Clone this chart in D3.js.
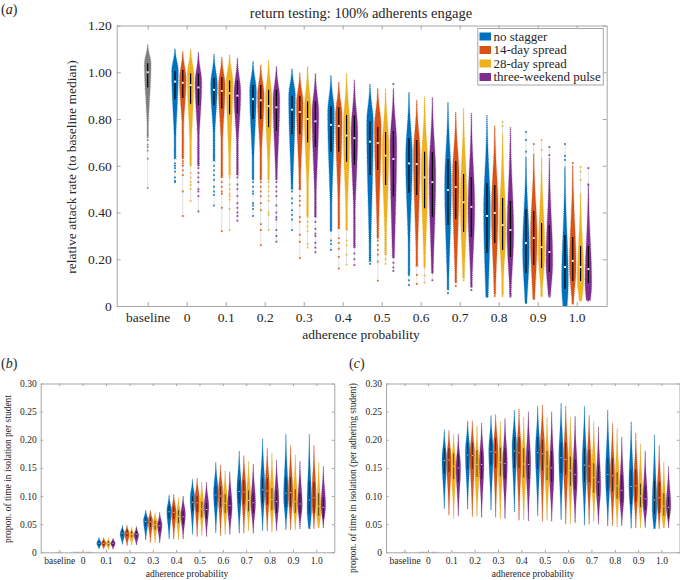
<!DOCTYPE html>
<html>
<head>
<meta charset="utf-8">
<script src="https://d3js.org/d3.v7.min.js"></script>
<style>
  html, body { margin: 0; padding: 0; background: #fff; }
  svg { display: block; }
  text { font-family: "Liberation Serif", serif; fill: #262626; }
</style>
</head>
<body>
<svg id="vis-svg" width="680" height="580">
  <defs>
    <filter id="soft" x="-5%" y="-5%" width="110%" height="110%"><feGaussianBlur stdDeviation="0.3"></feGaussianBlur></filter>
  </defs>
</svg>
<script>
// categories, one x slot for baseline then one per adherence level
var levels = ["baseline", "0", "0.1", "0.2", "0.3", "0.4", "0.5", "0.6", "0.7", "0.8", "0.9", "1.0"];
var series = ["no stagger", "14-day spread", "28-day spread", "three-weekend pulse"];
var colors = ["#0072BD", "#D95319", "#EDB120", "#7E2F8E"];

// panel a, one row per adherence level 0..1.0, one column per series
var aTop = [
  [1.10, 1.09, 1.10, 1.085], [1.075, 1.065, 1.075, 1.06], [1.045, 1.03, 1.05, 1.025], [1.015, .995, 1.025, .995],
  [.985, .955, .995, .965], [.95, .93, .93, .93], [.913, .881, .895, .893], [.872, .829, .843, .825],
  [.817, .771, .74, .765], [.637, .65, .63, .63], [.596, .6, .483, .52]
];
var aQ3 = [
  [1.005, 1.01, .995, .995], [.975, .98, .965, .965], [.945, .945, .925, .925], [.90, .90, .875, .875],
  [.855, .85, .817, .815], [.79, .766, .745, .748], [.718, .71, .66, .659], [.629, .62, .565, .552],
  [.527, .518, .462, .449], [.415, .406, .355, .346], [.304, .295, .257, .257]
];
var aMed = [
  [.96, .955, .945, .935], [.925, .92, .91, .90], [.885, .88, .855, .85], [.84, .83, .80, .79],
  [.775, .77, .729, .718], [.703, .697, .643, .629], [.61, .607, .55, .53], [.496, .509, .444, .424],
  [.385, .398, .346, .325], [.269, .291, .252, .231], [.167, .193, .167, .158]
];
var aQ1 = [
  [.885, .89, .865, .86], [.86, .845, .82, .825], [.80, .80, .765, .75], [.735, .735, .70, .68],
  [.66, .66, .617, .605], [.56, .582, .518, .47], [.483, .475, .418, .382], [.346, .371, .317, .296],
  [.227, .269, .24, .21], [.141, .175, .163, .145], [.073, .107, .107, .098]
];
// where the solid body of each violin ends at the bottom
var aTail = [
  [.63, .63, .60, .60], [.62, .55, .56, .56], [.54, .54, .54, .54], [.50, .50, .38, .38],
  [.32, .33, .325, .25], [.19, .29, .218, .205], [.13, .17, .17, .14], [.07, .10, .12, .08],
  [.04, .05, .05, .045], [.013, .03, .045, .045], [0, .012, .025, .025]
];
// stray runs, outside the solid body
var aDots = [
  [[.61, .60, .59, .575, .55, .535, .53], [.62, .61, .60, .58, .56, .49, .385], [.57, .55, .53, .518, .50, .449], [.59, .57, .55, .53, .50, .49, .47, .404]],
  [[.60, .58, .56, .54, .51, .49, .475, .43], [.53, .51, .49, .48, .42, .32], [.55, .52, .50, .48, .47, .455, .415, .325], [.55, .52, .50, .47, .44, .42, .40, .385, .365]],
  [[.53, .51, .49, .48, .44, .43, .415, .385], [.53, .51, .49, .47, .44, .41, .35, .325, .26], [.53, .51, .49, .47, .45, .40, .39, .325], [.53, .51, .49, .47, .43, .40, .38, .37, .325, .30, .275]],
  [[.49, .46, .44, .41, .39, .37, .325], [.50, .47, .45, .43, .38, .36, .305, .275, .205], [.36, .34, .32, .265, .25], [.36, .33, .31, .30, .27, .25, .23]],
  [[.28, .265, .24], [.29, .27, .245, .21, .16], [.28, .26, .22, .177], [.225, .20, .175]],
  [[.18], [.28, .26, .24, .22, .19, .108], [.20, .18], [.185, .165, .15, .95]],
  [[.11, .09], [.133, .094], [.165, .13, .10], [.11]],
  [[.055], [.085], [.11], [.068]],
  [[.039], [.043], [.788, .77, .043], [.04]],
  [[.745, .71, .66, .013], [.693, .03], [.71, .667, .043], [.68, .645, .04]],
  [[.693, .642, .625, 0], [.612, .01], [.595, .575, .54, .023], [.59, .52, .023]]
];
// panel a baseline
var aBaseline = [1.117, 1.038, 1.00, .935, .72];
var aBaselineDots = [.71, .69, .68, .665, .63, .505];

// panel b and c, one row per adherence level 0.1..1.0
var bTop = [
  [.026, .026, .025, .025], [.048, .048, .045, .046], [.075, .075, .07, .071], [.102, .103, .097, .10], [.13, .132, .125, .125],
  [.16, .155, .145, .143], [.18, .172, .162, .157], [.202, .185, .176, .164], [.21, .19, .173, .162], [.21, .19, .16, .153]
];
var bQ3 = [
  [.02, .02, .02, .02], [.04, .04, .038, .038], [.063, .062, .056, .055], [.083, .082, .075, .073], [.10, .10, .09, .088],
  [.118, .117, .103, .10], [.128, .128, .11, .106], [.133, .132, .114, .11], [.134, .133, .112, .105], [.127, .125, .105, .098]
];
var bMed = [
  [.016, .016, .016, .016], [.034, .034, .032, .032], [.055, .054, .049, .047], [.072, .071, .064, .063], [.089, .088, .077, .076],
  [.102, .10, .087, .083], [.108, .107, .092, .088], [.111, .109, .094, .09], [.105, .106, .09, .086], [.093, .097, .082, .08]
];
var bQ1 = [
  [.012, .012, .012, .012], [.029, .029, .027, .027], [.046, .045, .04, .038], [.06, .059, .052, .05], [.073, .072, .062, .06],
  [.083, .08, .07, .067], [.087, .085, .073, .07], [.087, .085, .075, .07], [.08, .08, .07, .068], [.068, .07, .065, .06]
];
var bMin = [
  [.006, .006, .005, .006], [.014, .012, .013, .013], [.022, .018, .017, .017], [.024, .023, .022, .024], [.032, .028, .03, .028],
  [.035, .03, .032, .032], [.034, .034, .038, .034], [.038, .038, .036, .038], [.04, .04, .04, .042], [.042, .042, .043, .043]
];

var cTop = [
  [.218, .217, .21, .21], [.234, .234, .224, .23], [.243, .245, .232, .238], [.253, .255, .24, .25], [.26, .262, .24, .25],
  [.265, .26, .24, .242], [.26, .243, .232, .223], [.253, .23, .22, .205], [.232, .212, .193, .18], [.209, .19, .16, .153]
];
var cQ3 = [
  [.185, .185, .176, .175], [.195, .195, .182, .18], [.202, .203, .186, .185], [.205, .205, .185, .18], [.205, .20, .18, .18],
  [.195, .195, .17, .165], [.185, .183, .158, .155], [.167, .167, .142, .137], [.147, .147, .122, .118], [.127, .125, .105, .098]
];
var cMed = [
  [.163, .164, .153, .15], [.173, .172, .156, .156], [.179, .178, .16, .158], [.18, .177, .157, .156], [.177, .175, .153, .15],
  [.168, .165, .145, .138], [.155, .153, .133, .125], [.138, .136, .118, .11], [.117, .118, .10, .095], [.093, .097, .082, .08]
];
var cQ1 = [
  [.14, .143, .13, .125], [.148, .148, .134, .13], [.155, .15, .135, .13], [.15, .15, .133, .13], [.148, .145, .128, .125],
  [.14, .138, .118, .112], [.125, .125, .106, .10], [.11, .108, .095, .088], [.085, .09, .08, .075], [.068, .07, .065, .06]
];
var cMin = [
  [.078, .066, .06, .065], [.077, .063, .064, .062], [.075, .062, .06, .06], [.072, .057, .058, .056], [.065, .055, .057, .055],
  [.058, .05, .05, .053], [.048, .05, .055, .05], [.047, .047, .045, .047], [.043, .043, .043, .044], [.042, .042, .043, .043]
];

var yTicksA = [0, .2, .4, .6, .8, 1, 1.2];
var yTicksB = [0, .05, .1, .15, .2, .25, .3];
var xSpan = [-0.795, 11.77];
var offsets = [-0.3, -0.1, 0.1, 0.3];

var svg = d3.select("#vis-svg");

function fmtTick(d) {
  return d === 0 ? "0" : d.toFixed(2);
}

// bell shape around an estimated mode, tapering to a tip at the top
// and either a thin tail or a tip at the bottom
function violinPath(stat, halfWidth) {
  var skew = stat.q3 + stat.q1 - 2 * stat.med;
  var mode = Math.min(stat.q3, Math.max(stat.tail, stat.med - 1.5 * skew));
  var sUp = (stat.top - mode) / 1.7;
  var sDown = stat.tipped
    ? Math.max(mode - stat.tail, stat.q3 - stat.q1) / 1.6
    : Math.max(mode - stat.q1, (stat.q3 - stat.q1) / 3) / 0.5;
  var values = d3.range(0, 41).map(function(i) {
    return stat.tail + (stat.top - stat.tail) * i / 40;
  });
  return values.map(function(v) {
    var s = v > mode ? sUp : sDown;
    var w = Math.exp(-Math.pow((v - mode) / s, 2));
    if (v < mode) { w = Math.max(w, stat.floor); }
    return { v: v, w: w * halfWidth };
  });
}

function drawPanel(p) {
  var x = d3.scaleLinear().domain(xSpan).range([p.left, p.right]);
  var y = d3.scaleLinear().domain(p.yDomain).range([p.bottom, p.top]);
  var g = svg.append("g").attr("filter", "url(#soft)");
  var labels = svg.append("g");

  function drawViolin(cx, stat, color) {
    var area = d3.area()
      .x0(function(d) { return cx - d.w; })
      .x1(function(d) { return cx + d.w; })
      .y(function(d) { return y(d.v); })
      .curve(d3.curveBasis);
    var pts = violinPath(stat, p.halfWidth);

    // thin grey line behind the stray runs
    g.append("line")
      .attr("x1", cx).attr("x2", cx)
      .attr("y1", y(stat.low)).attr("y2", y(stat.high))
      .attr("stroke", "#d9d9d9").attr("stroke-width", 0.8);

    g.append("path")
      .attr("d", area(pts))
      .attr("fill", color)
      .attr("stroke", color)
      .attr("stroke-opacity", 0.6)
      .attr("stroke-width", p.edge)
      .attr("stroke-dasharray", "0.8 1.1");

    g.selectAll(null).data(stat.dots).enter().append("rect")
      .attr("x", cx - p.dot / 2)
      .attr("y", function(d) { return y(d) - p.dot / 2; })
      .attr("width", p.dot).attr("height", p.dot)
      .attr("fill", color).attr("fill-opacity", 0.85);

    g.append("line")
      .attr("x1", cx).attr("x2", cx)
      .attr("y1", y(stat.q1)).attr("y2", y(stat.q3))
      .attr("stroke", "#000").attr("stroke-opacity", p.barOpacity)
      .attr("stroke-width", p.barWidth);

    g.append("rect")
      .attr("x", cx - p.med / 2).attr("y", y(stat.med) - p.med / 2)
      .attr("width", p.med).attr("height", p.med)
      .attr("fill", "#fff").attr("fill-opacity", 0.9);
  }

  p.rows.forEach(function(row, i) {
    row.forEach(function(stat, j) {
      drawViolin(x(i + p.firstSlot + offsets[j]), stat, colors[j]);
    });
  });
  if (p.baseline) { drawViolin(x(0), p.baseline, "#7f7f7f"); }

  // panels b and c show empty groups as flat faint marks on the axis
  if (p.flat) {
    [0, 1].forEach(function(slot) {
      colors.forEach(function(c, j) {
        if (slot === 0 && j > 0) { return; }
        g.append("line")
          .attr("x1", x(slot + (slot ? offsets[j] : 0)) - 3).attr("x2", x(slot + (slot ? offsets[j] : 0)) + 3)
          .attr("y1", y(0)).attr("y2", y(0))
          .attr("stroke", slot ? c : "#7f7f7f").attr("stroke-opacity", 0.4).attr("stroke-width", 1);
      });
    });
  }

  var tickVals = d3.range(0, levels.length);
  var axes = svg.append("g");
  axes.append("g").attr("transform", "translate(0," + p.bottom + ")")
    .call(d3.axisBottom(x).tickValues(tickVals).tickFormat(function(d) { return levels[d]; }).tickSizeInner(-p.tickLen).tickSizeOuter(0).tickPadding(p.xPad));
  axes.append("g").attr("transform", "translate(0," + p.top + ")")
    .call(d3.axisTop(x).tickValues(tickVals).tickFormat("").tickSizeInner(-p.tickLen).tickSizeOuter(0));
  axes.append("g").attr("transform", "translate(" + p.left + ",0)")
    .call(d3.axisLeft(y).tickValues(p.yTicks).tickFormat(fmtTick).tickSizeInner(-p.tickLen).tickSizeOuter(0).tickPadding(p.yPad));
  axes.append("g").attr("transform", "translate(" + p.right + ",0)")
    .call(d3.axisRight(y).tickValues(p.yTicks).tickFormat("").tickSizeInner(-p.tickLen).tickSizeOuter(0));

  axes.selectAll("path.domain, .tick line").attr("stroke", "#a6a6a6").attr("stroke-width", 1);
  axes.selectAll("text")
    .attr("fill", "#262626")
    .attr("font-size", p.tickFont)
    .style("font-family", '"Liberation Serif", serif');

  labels.append("text")
    .attr("x", p.xLabelX).attr("y", p.xLabelY)
    .attr("text-anchor", "middle").attr("font-size", p.labelFont)
    .text("adherence probability");

  labels.append("text")
    .attr("transform", "translate(" + p.yLabelX + "," + p.yLabelY + ") rotate(-90)")
    .attr("text-anchor", "middle").attr("font-size", p.labelFont)
    .text(p.yLabel);

  var tag = labels.append("text").attr("x", p.tagX).attr("y", p.tagY).attr("font-size", 14);
  tag.append("tspan").text("(");
  tag.append("tspan").attr("font-style", "italic").text(p.tag);
  tag.append("tspan").text(")");
}

function zipA(i, j) {
  var highs = aDots[i][j].concat([aTop[i][j]]);
  var lows = aDots[i][j].concat([aTail[i][j]]);
  return {
    top: aTop[i][j], q3: aQ3[i][j], med: aMed[i][j], q1: aQ1[i][j],
    tail: aTail[i][j], dots: aDots[i][j], floor: 0.26, tipped: false,
    high: d3.max(highs), low: d3.min(lows)
  };
}

function zipOther(t, q3, m, q1, lo) {
  return t.map(function(row, i) {
    return row.map(function(_, j) {
      return {
        top: t[i][j], q3: q3[i][j], med: m[i][j], q1: q1[i][j],
        tail: lo[i][j], dots: [], floor: 0.08, tipped: true, high: t[i][j], low: lo[i][j]
      };
    });
  });
}

drawPanel({
  rows: aTop.map(function(row, i) { return row.map(function(_, j) { return zipA(i, j); }); }),
  baseline: {
    top: aBaseline[0], q3: aBaseline[1], med: aBaseline[2], q1: aBaseline[3], tail: aBaseline[4],
    dots: aBaselineDots, floor: 0.2, tipped: false, high: aBaseline[0], low: d3.min(aBaselineDots)
  },
  firstSlot: 1, flat: false,
  left: 116.7, right: 606.7, top: 25.5, bottom: 306, yDomain: [0, 1.2], yTicks: yTicksA,
  halfWidth: 3.3, edge: 1.3, dot: 1.8, med: 2, barWidth: 1.2, barOpacity: 1,
  tickFont: 13.5, labelFont: 13.5, tickLen: 4, xPad: 6, yPad: 5,
  xLabelX: 361, xLabelY: 339, yLabelX: 76, yLabelY: 167,
  yLabel: "relative attack rate (to baseline median)",
  tag: "a", tagX: 1, tagY: 14
});

drawPanel({
  rows: zipOther(bTop, bQ3, bMed, bQ1, bMin),
  firstSlot: 2, flat: true,
  left: 40.7, right: 334.3, top: 383.5, bottom: 552.3, yDomain: [0, .3], yTicks: yTicksB,
  halfWidth: 2.3, edge: 0.8, dot: 1, med: 1, barWidth: 0.9, barOpacity: 0.7,
  tickFont: 9.5, labelFont: 9.5, tickLen: 2.5, xPad: 5, yPad: 4,
  xLabelX: 187, xLabelY: 577, yLabelX: 11, yLabelY: 469,
  yLabel: "propon. of time in isolation per student",
  tag: "b", tagX: 1, tagY: 368
});

drawPanel({
  rows: zipOther(cTop, cQ3, cMed, cQ1, cMin),
  firstSlot: 2, flat: true,
  left: 386, right: 679.5, top: 383.5, bottom: 552.3, yDomain: [0, .3], yTicks: yTicksB,
  halfWidth: 2.3, edge: 0.8, dot: 1, med: 1, barWidth: 0.9, barOpacity: 0.7,
  tickFont: 9.5, labelFont: 9.5, tickLen: 2.5, xPad: 5, yPad: 4,
  xLabelX: 533, xLabelY: 577, yLabelX: 356, yLabelY: 478,
  yLabel: "propon. of time in isolation (per adhering student)",
  tag: "c", tagX: 349, tagY: 368
});

// title over panel a
svg.append("text")
  .attr("x", 361).attr("y", 18)
  .attr("text-anchor", "middle").attr("font-size", 14.5)
  .text("return testing: 100% adherents engage");

// legend, top right of panel a
var legend = svg.append("g");
legend.append("rect")
  .attr("x", 477.8).attr("y", 28.5).attr("width", 125.5).attr("height", 56.5)
  .attr("fill", "#fff").attr("stroke", "#a6a6a6").attr("stroke-width", 1);
var legendRow = d3.scaleLinear().domain([0, 3]).range([36.5, 77]);
series.forEach(function(name, i) {
  legend.append("rect")
    .attr("x", 479.5).attr("y", legendRow(i) - 4)
    .attr("width", 11.5).attr("height", 8)
    .attr("fill", colors[i]);
  legend.append("text")
    .attr("x", 493.5).attr("y", legendRow(i) + 4)
    .attr("font-size", 13)
    .text(name);
});
</script>
</body>
</html>
